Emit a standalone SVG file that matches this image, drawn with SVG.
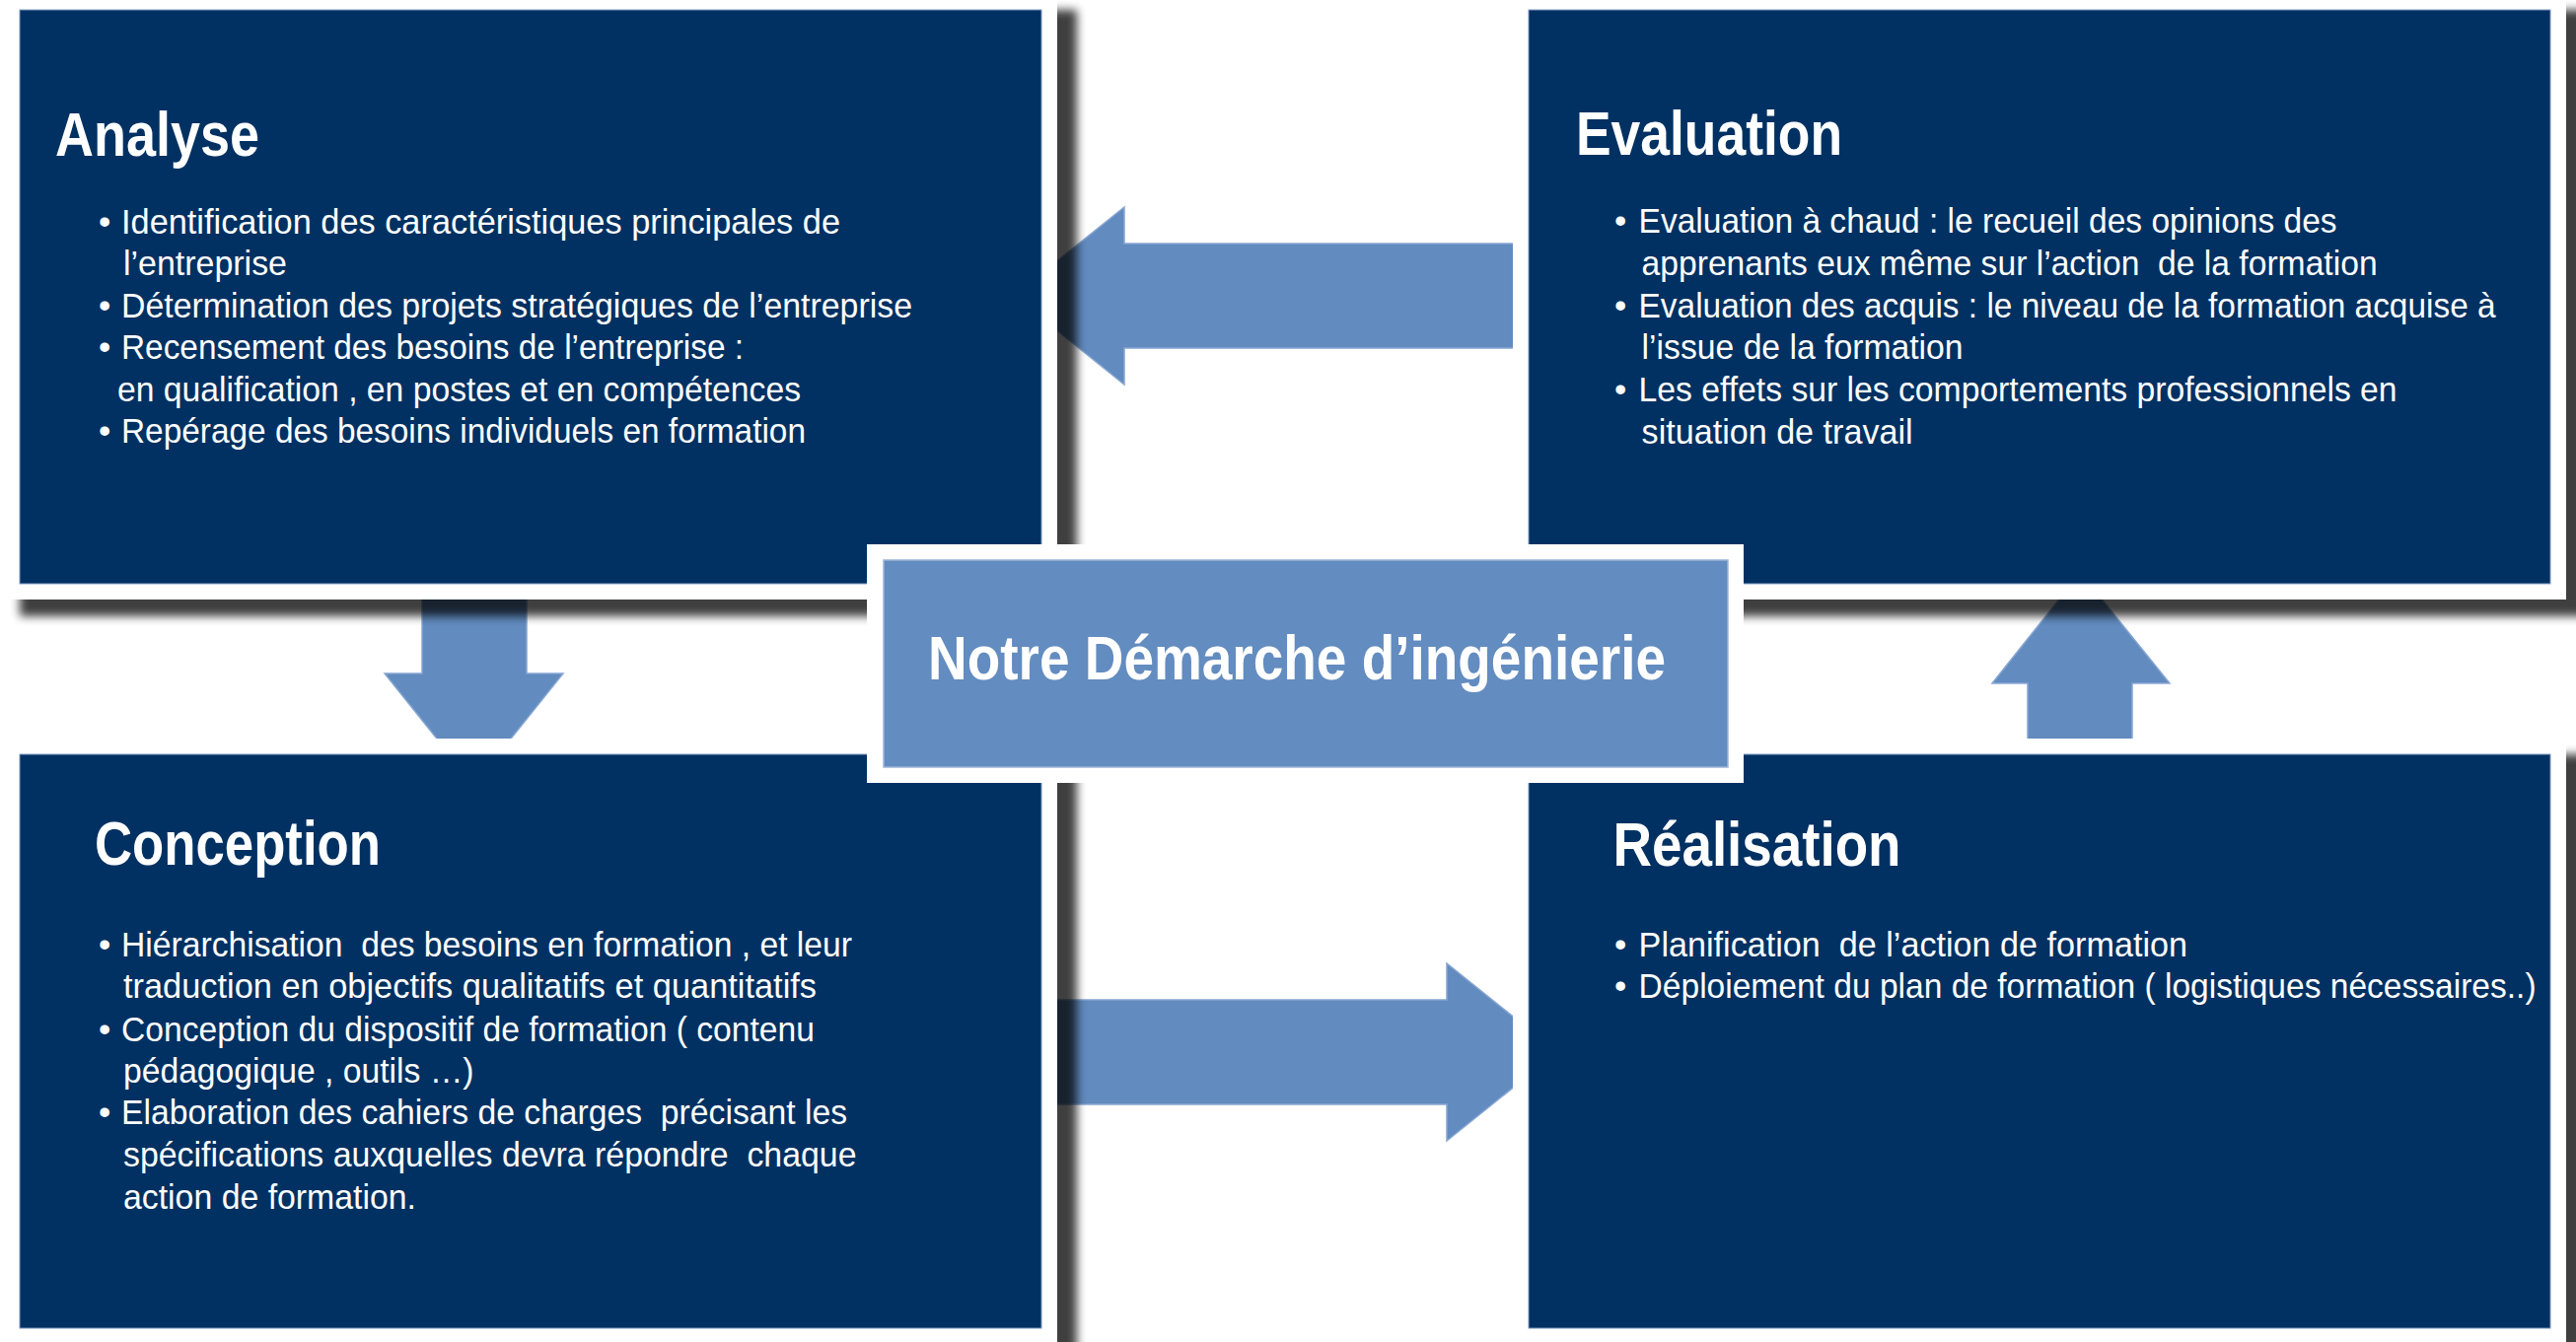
<svg xmlns="http://www.w3.org/2000/svg" width="2612" height="1361" viewBox="0 0 2612 1361">
<defs>
<filter id="sh" x="-10%" y="-10%" width="120%" height="120%"><feGaussianBlur stdDeviation="5"/></filter>
<style>
.arrow{fill:#628BBF;stroke:#86A6D3;stroke-width:1.5}
.shadow{fill:#000;opacity:0.75;filter:url(#sh)}
.frame{fill:#fff}
.box{fill:#003162;stroke:#7f9ac2;stroke-width:1}
.center{fill:#638CC0;stroke:#9db4d8;stroke-width:1.5}
.ttl{font-family:"Liberation Sans Narrow","Liberation Sans",Arial,sans-serif;font-weight:bold;font-size:63px;fill:#fff;white-space:pre}
.txt{font-family:"Liberation Sans Narrow","Liberation Sans",Arial,sans-serif;font-size:35px;fill:#fff;white-space:pre}
</style>
</defs>
<rect width="2612" height="1361" fill="#fff"/>
<g id="connectors">
<path class="arrow" d="M1545,247 L1140,247 L1140,210 L1028,300 L1140,390 L1140,353 L1545,353 Z"/>
<path class="arrow" d="M428,595 L534,595 L534,683 L571,683 L480.5,796 L390,683 L428,683 Z"/>
<path class="arrow" d="M1060,1014 L1467,1014 L1467,977 L1579,1067 L1467,1157 L1467,1120 L1060,1120 Z"/>
<path class="arrow" d="M2056,760 L2056,693 L2020,693 L2109.5,581 L2200,693 L2162,693 L2162,760 Z"/>
</g>
<g id="node-analyse">
<rect class="shadow" x="20" y="10" width="1072" height="615"/>
<rect class="frame" x="4" y="-6" width="1068" height="614"/>
<rect class="box" x="20" y="10" width="1036" height="582"/>
<text class="ttl" x="56" y="158" textLength="207" lengthAdjust="spacingAndGlyphs">Analyse</text>
<text class="txt" x="100" y="236.5">•</text>
<text class="txt" x="123" y="236.5" textLength="729" lengthAdjust="spacingAndGlyphs">Identification des caractéristiques principales de</text>
<text class="txt" x="125" y="279" textLength="166" lengthAdjust="spacingAndGlyphs">l’entreprise</text>
<text class="txt" x="100" y="321.5">•</text>
<text class="txt" x="123" y="321.5" textLength="802" lengthAdjust="spacingAndGlyphs">Détermination des projets stratégiques de l’entreprise</text>
<text class="txt" x="100" y="364">•</text>
<text class="txt" x="123" y="364" textLength="631" lengthAdjust="spacingAndGlyphs">Recensement des besoins de l’entreprise :</text>
<text class="txt" x="119" y="406.5" textLength="693" lengthAdjust="spacingAndGlyphs">en qualification , en postes et en compétences</text>
<text class="txt" x="100" y="449">•</text>
<text class="txt" x="123" y="449" textLength="694" lengthAdjust="spacingAndGlyphs">Repérage des besoins individuels en formation</text>
</g>
<g id="node-evaluation">
<rect class="shadow" x="1550" y="10" width="1072" height="615"/>
<rect class="frame" x="1534" y="-6" width="1068" height="614"/>
<rect class="box" x="1550" y="10" width="1036" height="582"/>
<text class="ttl" x="1598" y="157" textLength="270" lengthAdjust="spacingAndGlyphs">Evaluation</text>
<text class="txt" x="1637" y="235.7">•</text>
<text class="txt" x="1661.6" y="235.7" textLength="708" lengthAdjust="spacingAndGlyphs">Evaluation à chaud : le recueil des opinions des</text>
<text class="txt" x="1664.6" y="279" textLength="746" lengthAdjust="spacingAndGlyphs">apprenants eux même sur l’action  de la formation</text>
<text class="txt" x="1637" y="322">•</text>
<text class="txt" x="1661.6" y="322" textLength="869" lengthAdjust="spacingAndGlyphs">Evaluation des acquis : le niveau de la formation acquise à</text>
<text class="txt" x="1664.6" y="364" textLength="326" lengthAdjust="spacingAndGlyphs">l’issue de la formation</text>
<text class="txt" x="1637" y="407.4">•</text>
<text class="txt" x="1661.6" y="407.4" textLength="769" lengthAdjust="spacingAndGlyphs">Les effets sur les comportements professionnels en</text>
<text class="txt" x="1664.6" y="449.5" textLength="275" lengthAdjust="spacingAndGlyphs">situation de travail</text>
</g>
<g id="node-conception">
<rect class="shadow" x="20" y="765" width="1072" height="615"/>
<rect class="frame" x="4" y="749" width="1068" height="614"/>
<rect class="box" x="20" y="765" width="1036" height="582"/>
<text class="ttl" x="96" y="876.7" textLength="290" lengthAdjust="spacingAndGlyphs">Conception</text>
<text class="txt" x="100" y="970">•</text>
<text class="txt" x="123" y="970" textLength="741" lengthAdjust="spacingAndGlyphs">Hiérarchisation  des besoins en formation , et leur</text>
<text class="txt" x="125" y="1012" textLength="703" lengthAdjust="spacingAndGlyphs">traduction en objectifs qualitatifs et quantitatifs</text>
<text class="txt" x="100" y="1055.5">•</text>
<text class="txt" x="123" y="1055.5" textLength="703" lengthAdjust="spacingAndGlyphs">Conception du dispositif de formation ( contenu</text>
<text class="txt" x="125" y="1098" textLength="355.5" lengthAdjust="spacingAndGlyphs">pédagogique , outils …)</text>
<text class="txt" x="100" y="1140">•</text>
<text class="txt" x="123" y="1140" textLength="736" lengthAdjust="spacingAndGlyphs">Elaboration des cahiers de charges  précisant les</text>
<text class="txt" x="125" y="1183" textLength="743.5" lengthAdjust="spacingAndGlyphs">spécifications auxquelles devra répondre  chaque</text>
<text class="txt" x="125" y="1225.6" textLength="297" lengthAdjust="spacingAndGlyphs">action de formation.</text>
</g>
<g id="node-realisation">
<rect class="shadow" x="1550" y="765" width="1072" height="615"/>
<rect class="frame" x="1534" y="749" width="1068" height="614"/>
<rect class="box" x="1550" y="765" width="1036" height="582"/>
<text class="ttl" x="1635.5" y="877.7" textLength="292" lengthAdjust="spacingAndGlyphs">Réalisation</text>
<text class="txt" x="1637" y="970">•</text>
<text class="txt" x="1661.6" y="970" textLength="556.4" lengthAdjust="spacingAndGlyphs">Planification  de l’action de formation</text>
<text class="txt" x="1637" y="1012">•</text>
<text class="txt" x="1661.6" y="1012" textLength="910" lengthAdjust="spacingAndGlyphs">Déploiement du plan de formation ( logistiques nécessaires..)</text>
</g>
<g id="node-center">
<rect class="frame" x="879" y="552" width="889" height="242"/>
<rect class="center" x="896" y="568" width="856" height="210"/>
<text class="ttl" x="941" y="689" textLength="748" lengthAdjust="spacingAndGlyphs">Notre Démarche d’ingénierie</text>
</g>
</svg>
